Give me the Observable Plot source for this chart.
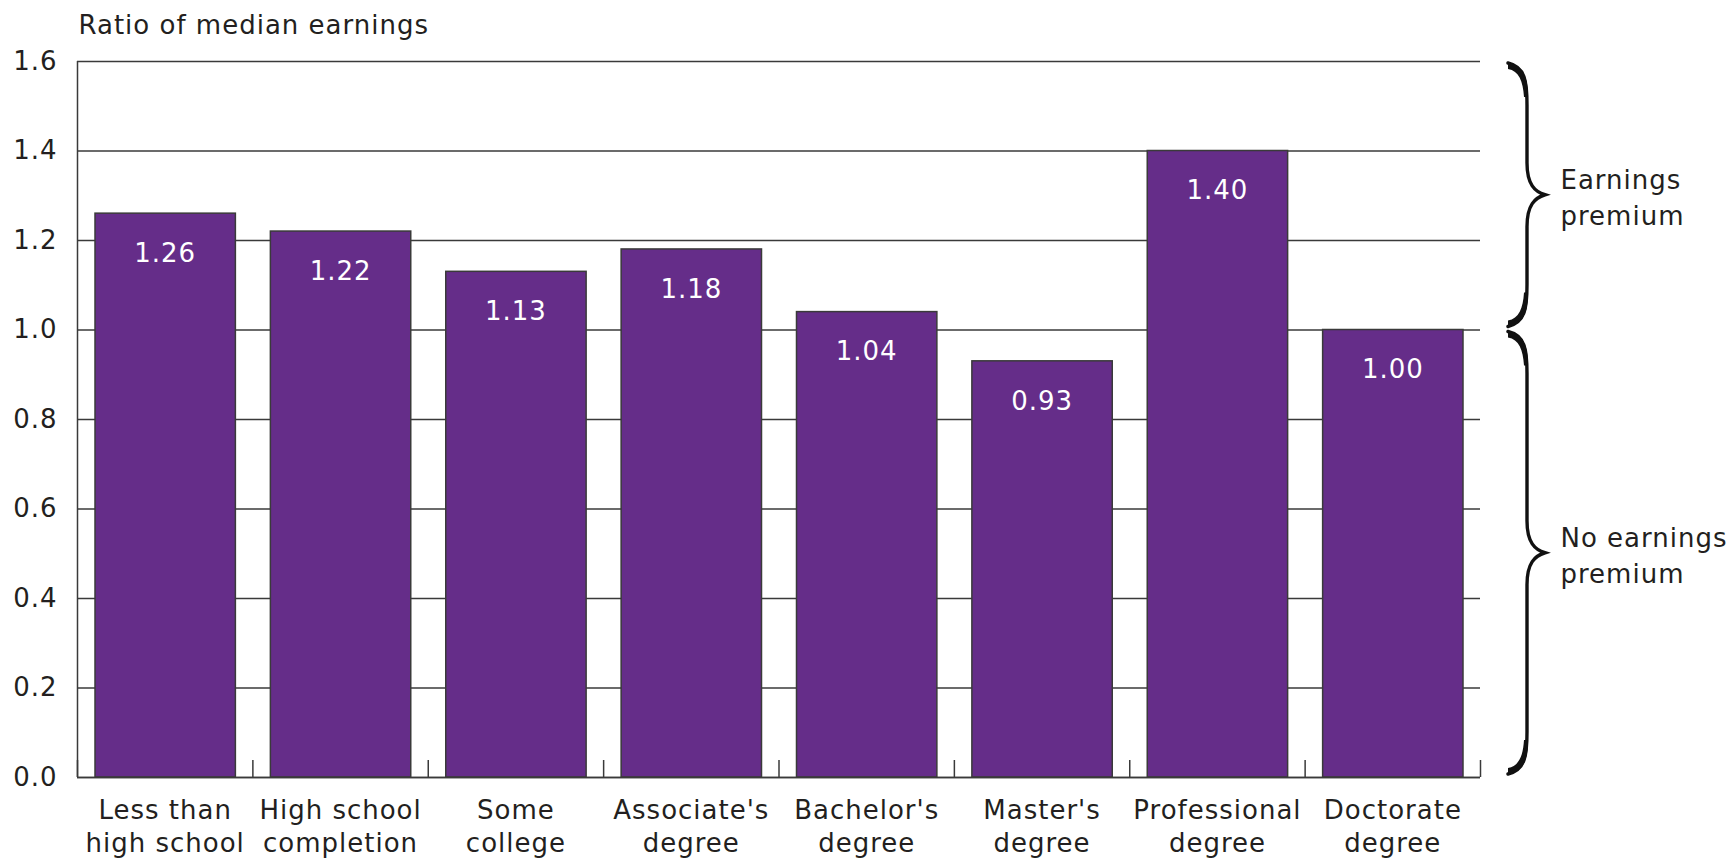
<!DOCTYPE html>
<html><head><meta charset="utf-8">
<script src="https://cdn.jsdelivr.net/npm/d3@7"></script>
<script src="https://cdn.jsdelivr.net/npm/@observablehq/plot@0.6"></script>
<style>body{margin:0;background:#fff;} svg{display:block}</style>
</head><body><div id="chart"></div>
<script>
const categories = ["Less than\nhigh school","High school\ncompletion","Some\ncollege","Associate's\ndegree","Bachelor's\ndegree","Master's\ndegree","Professional\ndegree","Doctorate\ndegree"];
const values = [1.26,1.22,1.13,1.18,1.04,0.93,1.40,1.00];
const valueLabels = ["1.26","1.22","1.13","1.18","1.04","0.93","1.40","1.00"];
const yTicks = [0,0.2,0.4,0.6,0.8,1.0,1.2,1.4,1.6];
const yTickLabels = ["0.0","0.2","0.4","0.6","0.8","1.0","1.2","1.4","1.6"];
const yTitle = "Ratio of median earnings";
const braceLabels = ["Earnings\npremium","No earnings\npremium"];
const braceFrom = [1.0, 0];
const braceTo = [1.6, 1.0];

const data = categories.map((c,i)=>({cat:c, i, value: values[i], label: valueLabels[i]}));
const boundaries = d3.range(categories.length + 1);
const ink = "#231f20", line = "#3a3a3a", purple = "#652d89";

function braces(index, scales, values, dims) {
  const y = scales.y;
  const R = dims.width - dims.marginRight;
  const xe = R + 28, xb = R + 47, xt = R + 65;
  const g = d3.create("svg:g");
  braceFrom.forEach((f, i) => {
    const yT = y(braceTo[i]) + 2, yB = y(f) - 3, ym = (yT + yB) / 2;
    const p = `M${xe},${yT} C${xb-2},${yT+4} ${xb},${yT+18} ${xb},${yT+42} L${xb},${ym-32} C${xb},${ym-10} ${xb+8},${ym-3} ${xt},${ym} C${xb+8},${ym+3} ${xb},${ym+10} ${xb},${ym+32} L${xb},${yB-42} C${xb},${yB-18} ${xb-2},${yB-4} ${xe},${yB}`;
    g.append("path").attr("d", p).attr("fill", "none").attr("stroke", "#111").attr("stroke-width", 3.4).attr("stroke-linecap", "round");
    // thicker calligraphic ends
    [[yT, 1], [yB, -1]].forEach(([ye, s]) => {
      g.append("path")
        .attr("d", `M${xe},${ye} C${xb-4},${ye+s*2} ${xb+1},${ye+s*14} ${xb+1},${ye+s*34} L${xb-3},${ye+s*34} C${xb-4},${ye+s*18} ${xb-8},${ye+s*8} ${xe},${ye+s*6} Z`)
        .attr("fill", "#111");
    });
  });
  return g.node();
}

const chart = Plot.plot({
  width: 1733, height: 861,
  marginLeft: 77, marginRight: 253, marginTop: 61, marginBottom: 84,
  style: {fontFamily: "'DejaVu Sans', sans-serif", fontSize: "26px", letterSpacing: "1px", color: ink, background: "#fff"},
  x: {type: "linear", domain: [0, categories.length]},
  y: {domain: [0, 1.6]},
  marks: [
    Plot.ruleY(yTicks, {stroke: line, strokeWidth: 1.5}),
    Plot.rectY(data, {x1: "i", x2: d => d.i + 1, y1: 0, y2: "value", insetLeft: 18, insetRight: 17, fill: purple, stroke: line, strokeWidth: 1.5}),
    Plot.ruleX([0], {stroke: line, strokeWidth: 1.5}),
    Plot.ruleY([0], {stroke: line, strokeWidth: 1.5}),
    Plot.axisX({ticks: boundaries, tickSize: 17, dy: -17, tickFormat: () => "", stroke: line, strokeWidth: 1.5, label: null}),
    Plot.axisY({ticks: yTicks, tickSize: 0, tickPadding: 20, tickFormat: (d) => yTickLabels[yTicks.indexOf(d)], label: null, fill: ink, fontSize: 26}),
    Plot.text(data, {x: d => d.i + 0.5, y: 0, text: "cat", lineAnchor: "top", dy: 18, lineHeight: 1.28, fill: ink, fontSize: 26}),
    Plot.text(data, {x: d => d.i + 0.5, y: "value", text: "label", lineAnchor: "middle", dy: 40, fill: "white", fontSize: 26}),
    Plot.text([yTitle], {frameAnchor: "top-left", textAnchor: "start", lineAnchor: "top", dx: 1, dy: -46, fill: ink, fontSize: 26}),
    Plot.text(braceLabels, {y: (d, i) => (braceFrom[i] + braceTo[i]) / 2, frameAnchor: "right", dx: 80, textAnchor: "start", lineAnchor: "middle", lineHeight: 1.36, fill: ink, fontSize: 26}),
    braces
  ]
});
document.getElementById("chart").appendChild(chart);
</script>
</body></html>
